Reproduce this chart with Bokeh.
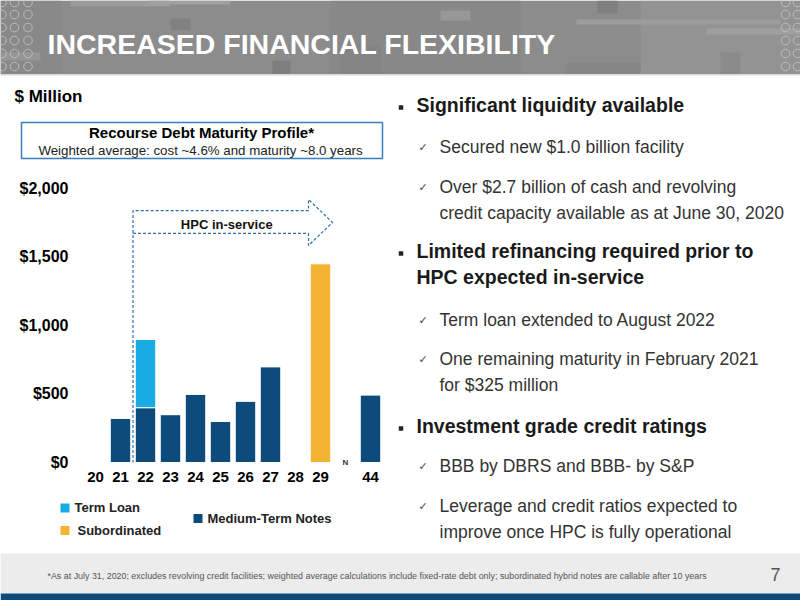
from bokeh.core.properties import value
from bokeh.embed import file_html
from bokeh.models import ColumnDataSource, FixedTicker, NumeralTickFormatter, Range1d
from bokeh.plotting import figure
from bokeh.resources import INLINE

# recourse debt maturities, $ million, by year (20 = 2020 ... 44 = 2044)
years = ["20", "21", "22", "23", "24", "25", "26", "27", "28", "29", "44"]
slots = list(range(10)) + [11]  # one empty slot marks the break before 2044
medium_term_notes = [0, 325, 400, 350, 500, 300, 450, 700, 0, 0, 495]
term_loan = [0, 0, 500, 0, 0, 0, 0, 0, 0, 0, 0]
subordinated = [0, 0, 0, 0, 0, 0, 0, 0, 0, 1450, 0]
y_ticks = [0, 500, 1000, 1500, 2000]

series_names = ["Medium-Term Notes", "Term Loan", "Subordinated"]
series_colors = ["#0c4b7c", "#19ace2", "#f5b334"]

FONT = "Liberation Sans"

# one slide-sized figure: the chart uses the main ranges, the rest of the slide
# is laid out on the "px" ranges (slide pixels, y downwards)
p = figure(width=800, height=600, x_range=Range1d(-3.8, 28.2), y_range=Range1d(-1007.3, 3372.26),
           toolbar_location=None, tools="", output_backend="svg", min_border=0,
           outline_line_color=None, background_fill_color="white", border_fill_color="white")
p.extra_x_ranges = {"px": Range1d(0, 800)}
p.extra_y_ranges = {"px": Range1d(600, 0)}
p.grid.visible = False
PX = dict(x_range_name="px", y_range_name="px")


def write(x, y, txt, size, bold=False, color="#000000", align="left", font=FONT):
    p.text(x=[x], y=[y], text=[txt], text_font=value(font), text_font_size=size,
           text_font_style="bold" if bold else "normal", text_color=color,
           text_align=align, text_baseline="middle", **PX)


# ---- banner (grey with a blurred block texture)
p.quad(left=[0], right=[800], top=[0], bottom=[74], fill_color="#8c8c8c", line_color=None, **PX)
p.quad(left=[0, 330, 640], right=[60, 520, 800], top=[0, 0, 0], bottom=[74, 74, 74],
       fill_color=["#888888", "#868686", "#969696"], fill_alpha=0.7, line_color=None, **PX)
p.quad(left=[70, 170, 272, 340, 440, 597, 565, 706, 720, 576, 0, 150],
       right=[170, 190, 290, 380, 470, 617, 640, 800, 740, 780, 40, 230],
       top=[0, 18, 60, 45, 10, 0, 62, 28, 52, 19, 52, 0],
       bottom=[6, 30, 74, 74, 20, 13, 74, 34, 74, 24, 60, 4],
       fill_color=["#a0a0a0", "#7d7d7d", "#7a7a7a", "#838383", "#9c9c9c", "#7c7c7c",
                   "#858585", "#a3a3a3", "#8a8a8a", "#a0a0a0", "#9a9a9a", "#a5a5a5"],
       fill_alpha=0.8, line_color=None, **PX)
p.circle(x=[1.5, 14, 27.5, 785, 797] * 6,
         y=[r for r in [2, 14, 27, 40, 53, 66] for _ in range(5)],
         radius=4.3, fill_color=None, line_color="#bdbdbd", line_width=1, **PX)
p.quad(left=[0], right=[800], top=[73.5], bottom=[75], fill_color="#d8d8d8", line_color=None, **PX)
write(47, 43, "INCREASED FINANCIAL FLEXIBILITY", "28.5px", bold=True, color="#ffffff")

# ---- footer
p.quad(left=[0, 0], right=[800, 800], top=[553, 593], bottom=[593, 600],
       fill_color=["#ececec", "#0b4a7a"], line_color=None, **PX)
write(47, 575, "*As at July 31, 2020; excludes revolving credit facilities; weighted average "
      "calculations include fixed-rate debt only; subordinated hybrid notes are callable after 10 years",
      "8.9px", color="#555555")
write(775, 574, "7", "18px", color="#555555", align="center")

# ---- chart heading
write(14, 96, "$ Million", "17px", bold=True)
p.quad(left=[21], right=[382], top=[122], bottom=[158], fill_color=None,
       line_color="#3a7cbc", line_width=1.5, **PX)
write(201, 132, "Recourse Debt Maturity Profile*", "15px", bold=True, align="center")
write(200, 150, "Weighted average: cost ~4.6% and maturity ~8.0 years", "13.3px",
      color="#222222", align="center")

# ---- chart
src = ColumnDataSource(dict(slot=slots, year=years, mtn=medium_term_notes,
                            term=term_loan, sub=subordinated))
p.vbar_stack(["mtn", "term", "sub"], x="slot", width=0.82, source=src,
             fill_color=series_colors, line_color="white", line_width=1)

p.xaxis.fixed_location = -22
p.yaxis.fixed_location = -0.6
p.xaxis.ticker = FixedTicker(ticks=slots)
p.xaxis.major_label_overrides = {s: y for s, y in zip(slots, years)}
p.yaxis.ticker = FixedTicker(ticks=y_ticks)
p.yaxis.formatter = NumeralTickFormatter(format="$0,0")
for ax in (p.xaxis[0], p.yaxis[0]):
    ax.axis_line_color = None
    ax.major_tick_line_color = None
    ax.minor_tick_line_color = None
    ax.major_tick_out = 0
    ax.major_tick_in = 0
    ax.minor_tick_out = 0
    ax.major_label_text_font = FONT
    ax.major_label_text_font_style = "bold"
    ax.major_label_text_color = "#000000"
p.xaxis.major_label_text_font_size = "15px"
p.yaxis.major_label_text_font_size = "16px"
p.xaxis.major_label_standoff = 6
p.yaxis.major_label_standoff = 12

# HPC in-service arrow, starting between 2021 and 2022
p.line(x=[1.5, 8.52, 8.52, 9.48, 8.52, 8.52, 1.5, 1.5],
       y=[1672, 1672, 1584, 1752, 1920, 1839, 1839, 0],
       line_color="#2f6fad", line_width=1.2, line_dash="3 2")
p.text(x=[5.25], y=[1740], text=["HPC in-service"], text_font=value(FONT),
       text_font_size="13px", text_font_style="bold", text_color="#111111",
       text_align="center", text_baseline="middle")
p.text(x=[10], y=[0], text=["N"], text_font=value(FONT), text_font_size="8px",
       text_font_style="bold", text_color="#333333", text_align="center",
       text_baseline="middle")

# ---- legend
p.scatter(x=[64.5, 64.5, 197.5], y=[507.5, 530, 518], marker="square", size=9,
          fill_color=[series_colors[1], series_colors[2], series_colors[0]], line_color=None, **PX)
write(74, 507, series_names[1], "13px", bold=True, color="#222222")
write(77, 530, series_names[2], "13px", bold=True, color="#222222")
write(207, 518, series_names[0], "13px", bold=True, color="#222222")

# ---- right hand text
headings = [(104, "Significant liquidity available"),
            (250, "Limited refinancing required prior to"),
            (276, "HPC expected in-service"),
            (425, "Investment grade credit ratings")]
points = [(146, "Secured new $1.0 billion facility", True),
          (186, "Over $2.7 billion of cash and revolving", True),
          (212, "credit capacity available as at June 30, 2020", False),
          (319, "Term loan extended to August 2022", True),
          (358, "One remaining maturity in February 2021", True),
          (384, "for $325 million", False),
          (465, "BBB by DBRS and BBB- by S&P", True),
          (505, "Leverage and credit ratios expected to", True),
          (531, "improve once HPC is fully operational", False)]
p.scatter(x=[400.5, 400.5, 400.5], y=[107, 253, 428], marker="square", size=4.5,
          fill_color="#222222", line_color=None, **PX)
for y, txt in headings:
    write(416, y, txt, "19.5px", bold=True, color="#1a1a1a")
for y, txt, tick in points:
    if tick:
        write(418, y + 1, "\u2713", "11px", color="#444444", font="DejaVu Sans")
    write(439, y, txt, "17.5px", color="#333333")

open("out.html", "w").write(file_html(p, INLINE))
